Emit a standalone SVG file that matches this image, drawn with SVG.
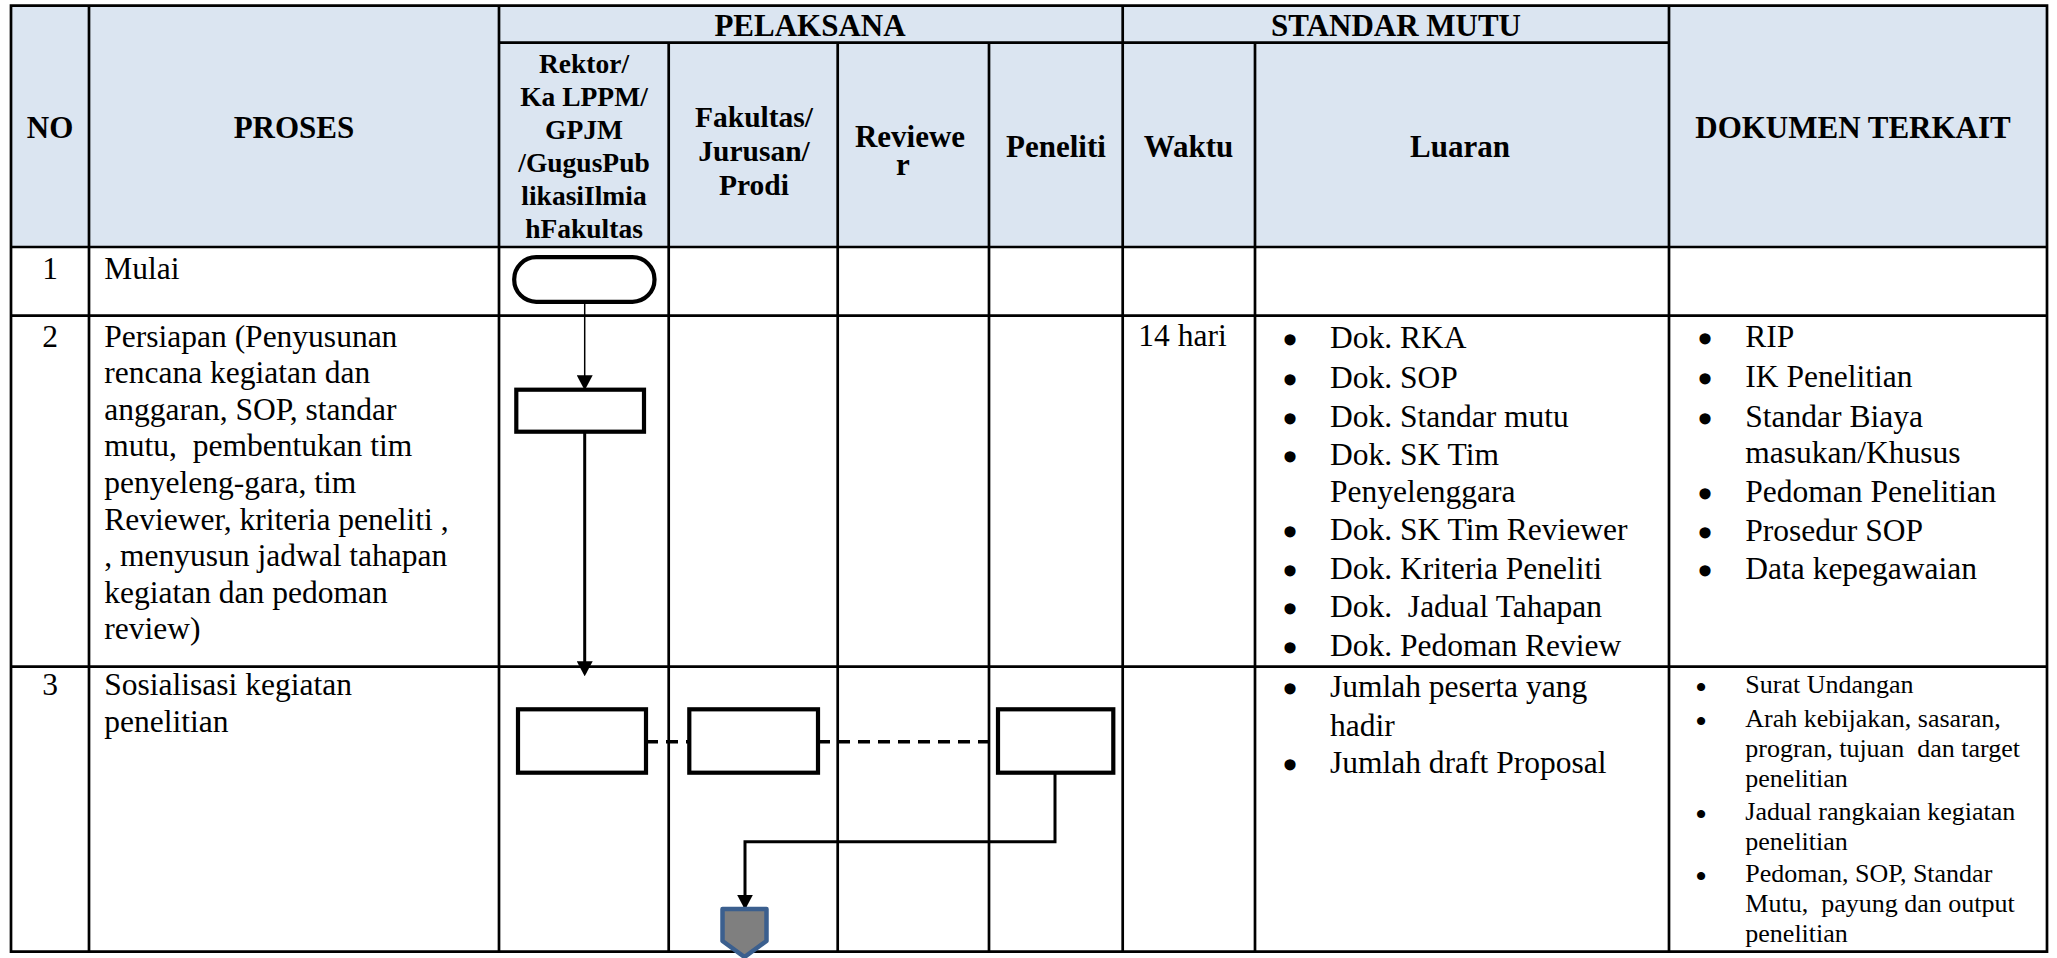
<svg xmlns="http://www.w3.org/2000/svg" width="2057" height="958" viewBox="0 0 2057 958">
<defs>
<style>
.grid{stroke:#000;stroke-width:2.7;fill:none}
.hdr{font-family:"Liberation Serif","Times New Roman",serif;font-weight:bold;font-size:31px;fill:#000;text-anchor:middle}
.hdrf{font-family:"Liberation Serif","Times New Roman",serif;font-weight:bold;font-size:29.5px;fill:#000;text-anchor:middle}
.hdrs{font-family:"Liberation Serif","Times New Roman",serif;font-weight:bold;font-size:27.5px;fill:#000;text-anchor:middle}
.t{font-family:"Liberation Serif","Times New Roman",serif;font-size:31.5px;fill:#000}
.tc{font-family:"Liberation Serif","Times New Roman",serif;font-size:31.5px;fill:#000;text-anchor:middle}
.ts{font-family:"Liberation Serif","Times New Roman",serif;font-size:26px;fill:#000}
.b{font-family:"Liberation Serif","Times New Roman",serif;font-size:31.5px;fill:#000;stroke:#000;stroke-width:3.6;text-anchor:middle}
.bs{font-family:"Liberation Serif","Times New Roman",serif;font-size:26px;fill:#000;stroke:#000;stroke-width:2;text-anchor:middle}
.shape{fill:#fff;stroke:#000;stroke-width:4.2}
.conn{fill:none;stroke:#000}
</style>
<marker id="arr" viewBox="0 0 15 16" refX="12" refY="8" markerWidth="15" markerHeight="16" markerUnits="userSpaceOnUse" orient="auto">
<path d="M0,0 L15,8 L0,16 Z" fill="#000"/>
</marker>
</defs>

<rect x="0" y="0" width="2057" height="958" fill="#fff"/>

<g id="table">
<rect x="11" y="5.7" width="2036" height="241.3" fill="#dbe5f1"/>
<path class="grid" d="M11,5.7 H2047 V951.7 H11 Z"/>
<path class="grid" d="M499,42.7 H1669 M11,247 H2047 M11,315.7 H2047 M11,666.7 H2047"/>
<path class="grid" d="M89,5.7 V951.7 M499,5.7 V951.7 M1122.7,5.7 V951.7 M1669,5.7 V951.7 M668.7,42.7 V951.7 M837.7,42.7 V951.7 M989,42.7 V951.7 M1255,42.7 V951.7"/>
</g>

<g id="header">
<text class="hdr" x="50" y="138">NO</text>
<text class="hdr" x="294" y="138">PROSES</text>
<text class="hdr" x="810" y="36">PELAKSANA</text>
<text class="hdr" x="1396" y="36">STANDAR MUTU</text>
<text class="hdr" x="1853" y="138">DOKUMEN TERKAIT</text>
<text class="hdrs" x="584" y="72.7">Rektor/</text>
<text class="hdrs" x="584" y="106">Ka LPPM/</text>
<text class="hdrs" x="584" y="138.7">GPJM</text>
<text class="hdrs" x="584" y="171.7">/GugusPub</text>
<text class="hdrs" x="584" y="205">likasiIlmia</text>
<text class="hdrs" x="584" y="238.3">hFakultas</text>
<text class="hdrf" x="754" y="126.5">Fakultas/</text>
<text class="hdrf" x="754" y="160.5">Jurusan/</text>
<text class="hdrf" x="754" y="194.5">Prodi</text>
<text class="hdr" x="910" y="146.7">Reviewe</text>
<text class="hdr" x="903" y="175">r</text>
<text class="hdr" x="1056" y="156.7">Peneliti</text>
<text class="hdr" x="1188.5" y="156.7">Waktu</text>
<text class="hdr" x="1460" y="156.7">Luaran</text>
</g>

<g id="row1">
<text class="tc" x="50" y="278.5">1</text>
<text class="t" x="104.3" y="278.5">Mulai</text>
</g>

<g id="row2">
<text class="tc" x="50" y="346.5">2</text>
<text class="t" x="104.3" y="346.5">Persiapan (Penyusunan</text>
<text class="t" x="104.3" y="383.1">rencana kegiatan dan</text>
<text class="t" x="104.3" y="419.7">anggaran, SOP, standar</text>
<text class="t" x="104.3" y="456.3" xml:space="preserve">mutu,  pembentukan tim</text>
<text class="t" x="104.3" y="492.9">penyeleng-gara, tim</text>
<text class="t" x="104.3" y="529.5">Reviewer, kriteria peneliti ,</text>
<text class="t" x="104.3" y="566.1">, menyusun jadwal tahapan</text>
<text class="t" x="104.3" y="602.7">kegiatan dan pedoman</text>
<text class="t" x="104.3" y="639.3">review)</text>
<text class="t" x="1138.3" y="345.5">14 hari</text>
<g id="luaran2">
<text class="b" x="1290" y="351.3">•</text><text class="t" x="1330" y="348.3">Dok. RKA</text>
<text class="b" x="1290" y="390.7">•</text><text class="t" x="1330" y="387.7">Dok. SOP</text>
<text class="b" x="1290" y="429.7">•</text><text class="t" x="1330" y="426.7">Dok. Standar mutu</text>
<text class="b" x="1290" y="468">•</text><text class="t" x="1330" y="465">Dok. SK Tim</text>
<text class="t" x="1330" y="502.3">Penyelenggara</text>
<text class="b" x="1290" y="543">•</text><text class="t" x="1330" y="540">Dok. SK Tim Reviewer</text>
<text class="b" x="1290" y="582">•</text><text class="t" x="1330" y="579">Dok. Kriteria Peneliti</text>
<text class="b" x="1290" y="619.7">•</text><text class="t" x="1330" y="616.7" xml:space="preserve">Dok.  Jadual Tahapan</text>
<text class="b" x="1290" y="658.7">•</text><text class="t" x="1330" y="655.7">Dok. Pedoman Review</text>
</g>
<g id="dokumen2">
<text class="b" x="1705" y="350.3">•</text><text class="t" x="1745.3" y="347.3">RIP</text>
<text class="b" x="1705" y="390.3">•</text><text class="t" x="1745.3" y="387.3">IK Penelitian</text>
<text class="b" x="1705" y="429.7">•</text><text class="t" x="1745.3" y="426.7">Standar Biaya</text>
<text class="t" x="1745.3" y="463.3">masukan/Khusus</text>
<text class="b" x="1705" y="504.7">•</text><text class="t" x="1745.3" y="501.7">Pedoman Penelitian</text>
<text class="b" x="1705" y="543.7">•</text><text class="t" x="1745.3" y="540.7">Prosedur SOP</text>
<text class="b" x="1705" y="582.3">•</text><text class="t" x="1745.3" y="579.3">Data kepegawaian</text>
</g>
</g>

<g id="row3">
<text class="tc" x="50" y="695">3</text>
<text class="t" x="104.3" y="695">Sosialisasi kegiatan</text>
<text class="t" x="104.3" y="731.5">penelitian</text>
<g id="luaran3">
<text class="b" x="1290" y="699.7">•</text><text class="t" x="1330" y="696.7">Jumlah peserta yang</text>
<text class="t" x="1330" y="736">hadir</text>
<text class="b" x="1290" y="776.3">•</text><text class="t" x="1330" y="773.3">Jumlah draft Proposal</text>
</g>
<g id="dokumen3">
<text class="bs" x="1701" y="696.3">•</text><text class="ts" x="1745.3" y="693.3">Surat Undangan</text>
<text class="bs" x="1701" y="729.7">•</text><text class="ts" x="1745.3" y="726.7">Arah kebijakan, sasaran,</text>
<text class="ts" x="1745.3" y="756.7" xml:space="preserve">progran, tujuan  dan target</text>
<text class="ts" x="1745.3" y="786.7">penelitian</text>
<text class="bs" x="1701" y="823">•</text><text class="ts" x="1745.3" y="820">Jadual rangkaian kegiatan</text>
<text class="ts" x="1745.3" y="850">penelitian</text>
<text class="bs" x="1701" y="884.7">•</text><text class="ts" x="1745.3" y="881.7">Pedoman, SOP, Standar</text>
<text class="ts" x="1745.3" y="911.7" xml:space="preserve">Mutu,  payung dan output</text>
<text class="ts" x="1745.3" y="941.7">penelitian</text>
</g>
</g>

<g id="connectors">
<path class="conn" stroke-width="1.5" d="M584.7,301.8 V387.3" marker-end="url(#arr)"/>
<path class="conn" stroke-width="3" d="M584.7,431.7 V673.3" marker-end="url(#arr)"/>
<path class="conn" stroke-width="3.5" stroke-dasharray="12,8" d="M646,741.7 H689.3"/>
<path class="conn" stroke-width="3.5" stroke-dasharray="12,8" d="M818,741.7 H998"/>
<path class="conn" stroke-width="3" d="M1055,772.7 V841.7 H745 V906.7" marker-end="url(#arr)"/>
</g>

<g id="n-mulai">
<rect class="shape" x="514.2" y="257.2" width="140.3" height="44.6" rx="22" ry="22" stroke-width="4.5"/>
</g>
<g id="n-persiapan">
<rect class="shape" x="516.3" y="389.7" width="127.7" height="42"/>
</g>
<g id="n-sosialisasi-rektor">
<rect class="shape" x="518" y="709.3" width="128" height="63.4"/>
</g>
<g id="n-sosialisasi-fakultas">
<rect class="shape" x="689.3" y="709.3" width="128.7" height="63.4"/>
</g>
<g id="n-sosialisasi-peneliti">
<rect class="shape" x="998" y="709.3" width="115.3" height="63.4"/>
</g>
<g id="n-offpage">
<path d="M722.5,909 H766.5 V941 L744.5,957 L722.5,941 Z" fill="#7f7f7f" stroke="#3b5f8e" stroke-width="4.5" stroke-linejoin="round"/>
</g>
</svg>
